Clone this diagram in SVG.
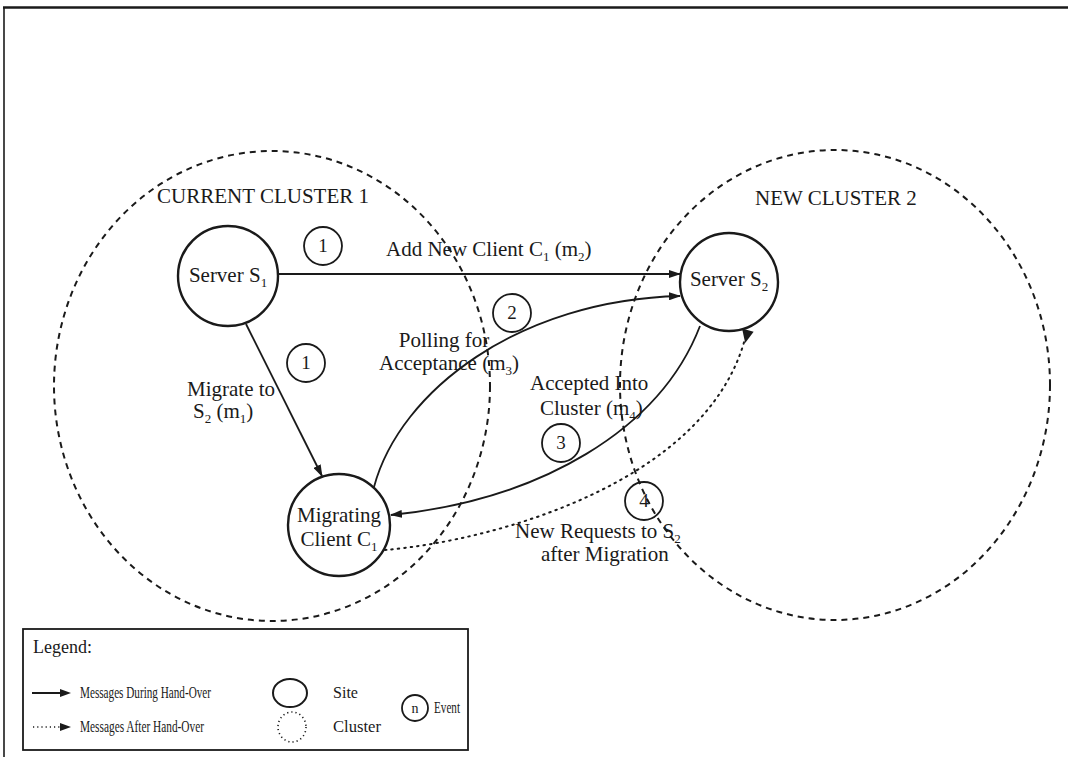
<svg xmlns="http://www.w3.org/2000/svg" width="1068" height="757" viewBox="0 0 1068 757">
  <style>
    .bg { fill: #ffffff; }
    .frame { stroke: #1a1a1a; fill: none; }
    .cluster { fill: none; stroke: #1a1a1a; stroke-width: 2; stroke-dasharray: 6 5; }
    .site { fill: #ffffff; stroke: #1a1a1a; stroke-width: 2.4; }
    .event { fill: none; stroke: #1a1a1a; stroke-width: 1.8; }
    .msg { fill: none; stroke: #1a1a1a; stroke-width: 1.8; }
    .after { fill: none; stroke: #1a1a1a; stroke-width: 2; stroke-dasharray: 1.5 5; stroke-linecap: round; }
    text { font-family: "Liberation Serif", "Times New Roman", serif; fill: #1a1a1a; }
    .lbl { font-size: 21px; }
    .num { font-size: 19px; text-anchor: middle; }
    .mid { text-anchor: middle; }
    .leg { font-size: 17.5px; }
    .sub { font-size: 13px; }
  </style>
  <defs>
    <marker id="arrow" viewBox="0 0 12 8" refX="11" refY="4" markerWidth="12" markerHeight="8" markerUnits="userSpaceOnUse" orient="auto">
      <path d="M0,0 L12,4 L0,8 Z" fill="#1a1a1a"/>
    </marker>
  </defs>

  <rect class="bg" x="0" y="0" width="1068" height="757"/>

  <!-- page frame -->
  <g id="frame">
    <line class="frame" x1="3" y1="7.5" x2="1068" y2="7.5" stroke-width="2.5"/>
    <line class="frame" x1="4" y1="7" x2="4" y2="757" stroke-width="1.6"/>
  </g>

  <!-- clusters -->
  <g id="cluster1">
    <ellipse class="cluster" cx="272" cy="386" rx="218" ry="235"/>
    <text class="lbl" x="157" y="203">CURRENT CLUSTER 1</text>
  </g>
  <g id="cluster2">
    <ellipse class="cluster" cx="835" cy="385" rx="215" ry="235"/>
    <text class="lbl" x="755" y="205">NEW CLUSTER 2</text>
  </g>

  <!-- connectors -->
  <g id="connectors">
    <line class="msg" x1="278" y1="274" x2="680" y2="274" marker-end="url(#arrow)"/>
    <line class="msg" x1="246" y1="324" x2="322" y2="476" marker-end="url(#arrow)"/>
    <path class="msg" d="M374,487 C400,390 520,300 680,296" marker-end="url(#arrow)"/>
    <path class="msg" d="M700,326 C660,430 540,500 391,515" marker-end="url(#arrow)"/>
    <path class="after" d="M385,550 C500,540 710,480 746,335"/>
    <path d="M741,330 L753,330 L748,343 Z" fill="#1a1a1a" transform="rotate(16 747 333)"/>
  </g>

  <!-- connector labels -->
  <g id="labels">
    <text class="lbl" x="386" y="256">Add New Client C<tspan class="sub" dy="5">1</tspan><tspan dy="-5"> (m</tspan><tspan class="sub" dy="5">2</tspan><tspan dy="-5">)</tspan></text>
    <text class="lbl mid" x="444" y="347">Polling for</text>
    <text class="lbl mid" x="449" y="370">Acceptance (m<tspan class="sub" dy="5">3</tspan><tspan dy="-5">)</tspan></text>
    <text class="lbl" x="187" y="396">Migrate to</text>
    <text class="lbl" x="193" y="418">S<tspan class="sub" dy="5">2</tspan><tspan dy="-5"> (m</tspan><tspan class="sub" dy="5">1</tspan><tspan dy="-5">)</tspan></text>
    <text class="lbl" x="530" y="390">Accepted Into</text>
    <text class="lbl" x="540" y="415">Cluster (m<tspan class="sub" dy="5">4</tspan><tspan dy="-5">)</tspan></text>
    <text class="lbl" x="515" y="538">New Requests to S<tspan class="sub" dy="5">2</tspan></text>
    <text class="lbl" x="541" y="561">after Migration</text>
  </g>

  <!-- sites -->
  <g id="server-s1">
    <circle class="site" cx="228" cy="276" r="50"/>
    <text class="lbl mid" x="228" y="282">Server S<tspan class="sub" dy="5">1</tspan></text>
  </g>
  <g id="server-s2">
    <circle class="site" cx="729" cy="282" r="49"/>
    <text class="lbl mid" x="729" y="286">Server S<tspan class="sub" dy="5">2</tspan></text>
  </g>
  <g id="client-c1">
    <circle class="site" cx="339" cy="525" r="51"/>
    <text class="lbl mid" x="339" y="522">Migrating</text>
    <text class="lbl mid" x="339" y="546">Client C<tspan class="sub" dy="5">1</tspan></text>
  </g>

  <!-- events -->
  <g id="event-1a">
    <circle class="event" cx="323" cy="246" r="19"/>
    <text class="num" x="323" y="252">1</text>
  </g>
  <g id="event-1b">
    <circle class="event" cx="306" cy="363" r="19"/>
    <text class="num" x="306" y="369">1</text>
  </g>
  <g id="event-2">
    <circle class="event" cx="512" cy="313" r="19"/>
    <text class="num" x="512" y="319">2</text>
  </g>
  <g id="event-3">
    <circle class="event" cx="561" cy="443" r="19"/>
    <text class="num" x="561" y="449">3</text>
  </g>
  <g id="event-4">
    <circle class="event" cx="644" cy="501" r="19"/>
    <text class="num" x="644" y="507">4</text>
  </g>

  <!-- legend -->
  <g id="legend">
    <rect x="23" y="629" width="445" height="121" fill="#ffffff" stroke="#1a1a1a" stroke-width="1.8"/>
    <text x="33" y="653" font-size="18">Legend:</text>
    <line x1="32" y1="693" x2="62" y2="693" stroke="#1a1a1a" stroke-width="2"/>
    <path d="M60,689 L71,693 L60,697 Z" fill="#1a1a1a"/>
    <text class="leg" x="80" y="698" textLength="131" lengthAdjust="spacingAndGlyphs">Messages During Hand-Over</text>
    <line x1="33" y1="727" x2="60" y2="727" stroke="#1a1a1a" stroke-width="1.5" stroke-dasharray="1.2 3"/>
    <path d="M60,723 L71,727 L60,731 Z" fill="#1a1a1a"/>
    <text class="leg" x="80" y="732" textLength="124" lengthAdjust="spacingAndGlyphs">Messages After Hand-Over</text>
    <ellipse cx="290" cy="693" rx="17" ry="14" fill="none" stroke="#1a1a1a" stroke-width="2"/>
    <text class="leg" x="333" y="698" textLength="25" lengthAdjust="spacingAndGlyphs">Site</text>
    <ellipse cx="292" cy="727" rx="14" ry="15" fill="none" stroke="#1a1a1a" stroke-width="1.6" stroke-dasharray="1.2 3"/>
    <text class="leg" x="333" y="732" textLength="48" lengthAdjust="spacingAndGlyphs">Cluster</text>
    <circle cx="415" cy="708" r="13" fill="none" stroke="#1a1a1a" stroke-width="1.8"/>
    <text class="mid" x="415" y="713" font-size="14">n</text>
    <text class="leg" x="434" y="713" textLength="26" lengthAdjust="spacingAndGlyphs">Event</text>
  </g>
</svg>
